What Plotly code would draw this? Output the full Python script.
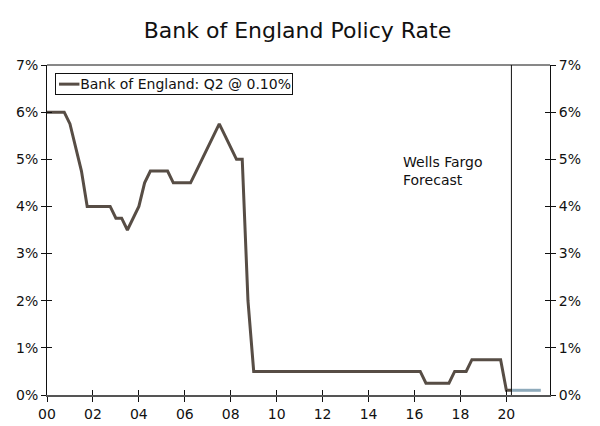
import plotly.graph_objects as go

# Quarterly data (year fraction: Q1 = .00, Q2 = .25, Q3 = .50, Q4 = .75)
quarters = [
    2000.00, 2000.25, 2000.50, 2000.75,
    2001.00, 2001.25, 2001.50, 2001.75,
    2002.00, 2002.25, 2002.50, 2002.75,
    2003.00, 2003.25, 2003.50, 2003.75,
    2004.00, 2004.25, 2004.50, 2004.75,
    2005.00, 2005.25, 2005.50, 2005.75,
    2006.00, 2006.25, 2006.50, 2006.75,
    2007.00, 2007.25, 2007.50, 2007.75,
    2008.00, 2008.25, 2008.50, 2008.75,
    2009.00, 2009.25, 2009.50, 2009.75,
    2010.00, 2010.25, 2010.50, 2010.75,
    2011.00, 2011.25, 2011.50, 2011.75,
    2012.00, 2012.25, 2012.50, 2012.75,
    2013.00, 2013.25, 2013.50, 2013.75,
    2014.00, 2014.25, 2014.50, 2014.75,
    2015.00, 2015.25, 2015.50, 2015.75,
    2016.00, 2016.25, 2016.50, 2016.75,
    2017.00, 2017.25, 2017.50, 2017.75,
    2018.00, 2018.25, 2018.50, 2018.75,
    2019.00, 2019.25, 2019.50, 2019.75,
    2020.00, 2020.25,
]
policy_rate = [
    6.00, 6.00, 6.00, 6.00,
    5.75, 5.25, 4.75, 4.00,
    4.00, 4.00, 4.00, 4.00,
    3.75, 3.75, 3.50, 3.75,
    4.00, 4.50, 4.75, 4.75,
    4.75, 4.75, 4.50, 4.50,
    4.50, 4.50, 4.75, 5.00,
    5.25, 5.50, 5.75, 5.50,
    5.25, 5.00, 5.00, 2.00,
    0.50, 0.50, 0.50, 0.50,
    0.50, 0.50, 0.50, 0.50,
    0.50, 0.50, 0.50, 0.50,
    0.50, 0.50, 0.50, 0.50,
    0.50, 0.50, 0.50, 0.50,
    0.50, 0.50, 0.50, 0.50,
    0.50, 0.50, 0.50, 0.50,
    0.50, 0.50, 0.25, 0.25,
    0.25, 0.25, 0.25, 0.50,
    0.50, 0.50, 0.75, 0.75,
    0.75, 0.75, 0.75, 0.75,
    0.10, 0.10,
]

forecast_quarters = [2020.25, 2020.50, 2020.75, 2021.00, 2021.25, 2021.50]
forecast_rate = [0.10, 0.10, 0.10, 0.10, 0.10, 0.10]

x_tick_vals = [2000, 2002, 2004, 2006, 2008, 2010, 2012, 2014, 2016, 2018, 2020]
x_tick_text = ["00", "02", "04", "06", "08", "10", "12", "14", "16", "18", "20"]
y_tick_vals = [0, 1, 2, 3, 4, 5, 6, 7]
y_tick_text = ["0%", "1%", "2%", "3%", "4%", "5%", "6%", "7%"]

series_name = "Bank of England: Q2 @ 0.10%"
forecast_label = "Wells Fargo<br>Forecast"

forecast_start = 2020.22
x_range = [2000, 2021.9]
y_range = [0, 7]

FONT = "DejaVu Sans"
DARK = "#574d45"
GREY = "#8eaabb"
INK = "#111111"

fig = go.Figure()
fig.add_trace(go.Scatter(
    x=quarters, y=policy_rate, mode="lines",
    name=series_name, showlegend=False,
    line=dict(color=DARK, width=3),
))
fig.add_trace(go.Scatter(
    x=forecast_quarters, y=forecast_rate, mode="lines",
    showlegend=False,
    line=dict(color=GREY, width=3),
))
# dummy traces to activate overlay axes (right labels and inside tick halves)
fig.add_trace(go.Scatter(x=[None], y=[None], xaxis="x2", yaxis="y3", showlegend=False))
fig.add_trace(go.Scatter(x=[None], y=[None], xaxis="x2", yaxis="y4", showlegend=False))
fig.add_trace(go.Scatter(x=[None], y=[None], xaxis="x", yaxis="y2", showlegend=False))

tickfont = dict(family=FONT, size=14, color=INK)

# The page body has an 8px default margin, so the figure is 592x418 placed at (8, 8)
fig.update_layout(
    width=592, height=418,
    margin=dict(l=39, r=50, t=57, b=31),
    paper_bgcolor="white", plot_bgcolor="white",
    title=dict(text="Bank of England Policy Rate", x=0.489, xanchor="center",
               y=0.947, yanchor="middle",
               font=dict(family=FONT, size=22, color=INK)),
    showlegend=False,
    xaxis=dict(range=x_range, tickvals=x_tick_vals, ticktext=x_tick_text,
               ticks="outside", ticklen=5, tickcolor=INK, tickwidth=1,
               showline=True, linecolor="#555555", linewidth=2, automargin=False,
               showgrid=False, zeroline=False, tickfont=tickfont),
    xaxis2=dict(range=x_range, tickvals=x_tick_vals, ticks="inside", ticklen=5,
                tickcolor=INK, showticklabels=False, overlaying="x",
                side="bottom", showgrid=False, zeroline=False, showline=False,
                automargin=False),
    yaxis=dict(range=y_range, tickvals=y_tick_vals, ticktext=y_tick_text,
               ticks="outside", ticklen=5, tickcolor=INK,
               showline=True, linecolor=INK, linewidth=1,
               showgrid=False, zeroline=False, tickfont=tickfont, automargin=False),
    yaxis2=dict(range=y_range, tickvals=y_tick_vals, ticktext=y_tick_text,
                ticks="outside", ticklen=5, tickcolor=INK,
                showline=True, linecolor=INK, linewidth=1,
                overlaying="y", side="right", automargin=False,
                showgrid=False, zeroline=False, tickfont=tickfont),
    yaxis3=dict(range=y_range, tickvals=y_tick_vals, ticks="inside", ticklen=5,
                tickcolor=INK, showticklabels=False, overlaying="y",
                side="left", showgrid=False, zeroline=False, showline=False,
                automargin=False),
    yaxis4=dict(range=y_range, tickvals=y_tick_vals, ticks="inside", ticklen=5,
                tickcolor=INK, showticklabels=False, overlaying="y",
                side="right", showgrid=False, zeroline=False, showline=False,
                automargin=False),
)

# top border of plot box
fig.add_shape(type="line", xref="paper", yref="paper", x0=0, x1=1, y0=1, y1=1,
              line=dict(color=INK, width=1))
# forecast divider
fig.add_shape(type="line", xref="x", yref="paper", x0=forecast_start, x1=forecast_start,
              y0=0, y1=1, line=dict(color=INK, width=1))

# legend box (compact, like the original)
fig.add_annotation(x=0.0159, y=0.9758, xref="paper", yref="paper",
                   text=series_name, showarrow=False,
                   xanchor="left", yanchor="top", align="right",
                   width=234, height=18, borderpad=1,
                   bgcolor="rgba(0,0,0,0)", bordercolor=INK, borderwidth=1,
                   font=dict(family=FONT, size=14, color=INK))
fig.add_shape(type="line", xref="paper", yref="paper",
              x0=0.0239, x1=0.0645, y0=0.942, y1=0.942,
              line=dict(color=DARK, width=3))

fig.add_annotation(x=2015.41, y=4.75, xref="x", yref="y", text=forecast_label,
                   showarrow=False, xanchor="left", yanchor="middle", align="left",
                   font=dict(family=FONT, size=14, color=INK))

fig.write_html("out.html")
